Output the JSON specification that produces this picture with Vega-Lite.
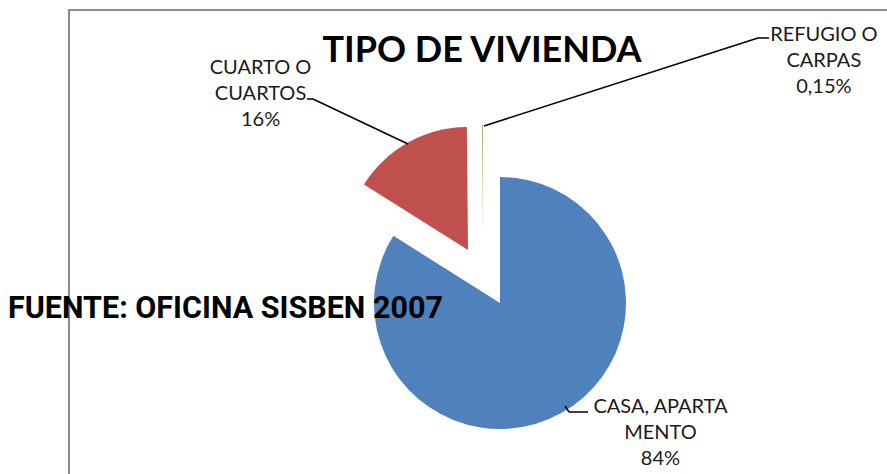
{
  "$schema": "https://vega.github.io/schema/vega-lite/v6.json",
  "width": 862,
  "height": 586,
  "autosize": {"type": "none"},
  "padding": {"left": 69, "top": 10, "right": -44, "bottom": -122},
  "background": "white",
  "view": {"stroke": "#8c8c8c", "strokeWidth": 2},
  "title": {
    "text": "TIPO DE VIVIENDA",
    "font": "Lato",
    "fontSize": 36,
    "fontWeight": "bold",
    "color": "#000000",
    "anchor": "middle",
    "frame": "group",
    "orient": "top",
    "offset": 0,
    "baseline": "alphabetic",
    "dx": -18,
    "dy": 88
  },
  "data": {
    "values": [
      {"cat": "CASA, APARTAMENTO", "value": 83.95, "label": "CASA, APARTA\nMENTO\n84%"},
      {"cat": "CUARTO O CUARTOS", "value": 15.9, "label": "CUARTO O\nCUARTOS\n16%"},
      {"cat": "REFUGIO O CARPAS", "value": 0.15, "label": "REFUGIO O\nCARPAS\n0,15%"}
    ]
  },
  "layer": [
    {
      "transform": [
        {"stack": "value", "groupby": [], "sort": [{"field": "cat"}], "as": ["start", "end"]},
        {"filter": "datum.cat === 'CASA, APARTAMENTO'"}
      ],
      "mark": {"type": "arc", "outerRadius": 126},
      "encoding": {
        "theta": {"field": "start", "type": "quantitative", "scale": {"domain": [0, 100]}},
        "theta2": {"field": "end"},
        "color": {"field": "cat", "type": "nominal", "scale": {"domain": ["CASA, APARTAMENTO", "CUARTO O CUARTOS", "REFUGIO O CARPAS"], "range": ["#4F81BD", "#C0504D", "#9BBB59"]}, "legend": null}
      }
    },
    {
      "transform": [
        {"stack": "value", "groupby": [], "sort": [{"field": "cat"}], "as": ["start", "end"]},
        {"filter": "datum.cat === 'CUARTO O CUARTOS'"}
      ],
      "mark": {"type": "arc", "outerRadius": 123, "xOffset": -32, "yOffset": -53},
      "encoding": {
        "theta": {"field": "start", "type": "quantitative", "scale": {"domain": [0, 100]}},
        "theta2": {"field": "end"},
        "color": {"field": "cat", "type": "nominal", "legend": null}
      }
    },
    {
      "transform": [
        {"stack": "value", "groupby": [], "sort": [{"field": "cat"}], "as": ["start", "end"]},
        {"filter": "datum.cat === 'REFUGIO O CARPAS'"}
      ],
      "mark": {"type": "arc", "outerRadius": 108, "xOffset": -17, "yOffset": -70},
      "encoding": {
        "theta": {"field": "start", "type": "quantitative", "scale": {"domain": [0, 100]}},
        "theta2": {"field": "end"},
        "color": {"field": "cat", "type": "nominal", "legend": null}
      }
    },
    {
      "mark": {"type": "text", "radius": 150, "dx": 88, "dy": -27, "font": "Lato", "fontSize": 20, "lineHeight": 26, "lineBreak": "\n", "align": "center", "baseline": "middle", "color": "#1a1a1a"},
      "encoding": {
        "theta": {"field": "value", "type": "quantitative", "stack": true, "scale": {"domain": [0, 100]}},
        "detail": {"field": "cat", "type": "nominal"},
        "order": {"field": "cat", "type": "ordinal"},
        "text": {"condition": {"test": "datum.cat === 'CASA, APARTAMENTO'", "field": "label"}, "value": ""}
      }
    },
    {
      "mark": {"type": "text", "radius": 239, "dx": -123, "dy": -26, "font": "Lato", "fontSize": 20, "lineHeight": 26, "lineBreak": "\n", "align": "center", "baseline": "middle", "color": "#1a1a1a"},
      "encoding": {
        "theta": {"field": "value", "type": "quantitative", "stack": true, "scale": {"domain": [0, 100]}},
        "detail": {"field": "cat", "type": "nominal"},
        "order": {"field": "cat", "type": "ordinal"},
        "text": {"condition": {"test": "datum.cat === 'CUARTO O CUARTOS'", "field": "label"}, "value": ""}
      }
    },
    {
      "mark": {"type": "text", "radius": 244, "dx": 325, "dy": -24, "font": "Lato", "fontSize": 20, "lineHeight": 26, "lineBreak": "\n", "align": "center", "baseline": "middle", "color": "#1a1a1a"},
      "encoding": {
        "theta": {"field": "value", "type": "quantitative", "stack": true, "scale": {"domain": [0, 100]}},
        "detail": {"field": "cat", "type": "nominal"},
        "order": {"field": "cat", "type": "ordinal"},
        "text": {"condition": {"test": "datum.cat === 'REFUGIO O CARPAS'", "field": "label"}, "value": ""}
      }
    },
    {
      "data": {"values": [{"note": "FUENTE: OFICINA SISBEN 2007"}]},
      "mark": {"type": "text", "x": -61, "y": 308, "align": "left", "baseline": "alphabetic", "font": "Roboto", "fontWeight": "bold", "fontSize": 30.5, "color": "#000000"},
      "encoding": {"text": {"field": "note", "type": "nominal"}}
    },
    {"data": {"values": [{}]}, "mark": {"type": "rule", "color": "#000000", "strokeWidth": 1.5}, "encoding": {"x": {"value": 339}, "y": {"value": 134}, "x2": {"value": 244}, "y2": {"value": 89}}},
    {"data": {"values": [{}]}, "mark": {"type": "rule", "color": "#000000", "strokeWidth": 1.5}, "encoding": {"x": {"value": 244}, "y": {"value": 89}, "x2": {"value": 238}, "y2": {"value": 89}}},
    {"data": {"values": [{}]}, "mark": {"type": "rule", "color": "#000000", "strokeWidth": 1.5}, "encoding": {"x": {"value": 415}, "y": {"value": 116}, "x2": {"value": 689}, "y2": {"value": 28}}},
    {"data": {"values": [{}]}, "mark": {"type": "rule", "color": "#000000", "strokeWidth": 1.5}, "encoding": {"x": {"value": 689}, "y": {"value": 28}, "x2": {"value": 700}, "y2": {"value": 28}}},
    {"data": {"values": [{}]}, "mark": {"type": "rule", "color": "#000000", "strokeWidth": 1.5}, "encoding": {"x": {"value": 496}, "y": {"value": 396}, "x2": {"value": 500}, "y2": {"value": 402}}},
    {"data": {"values": [{}]}, "mark": {"type": "rule", "color": "#000000", "strokeWidth": 1.5}, "encoding": {"x": {"value": 500}, "y": {"value": 402}, "x2": {"value": 519}, "y2": {"value": 402}}}
  ]
}
